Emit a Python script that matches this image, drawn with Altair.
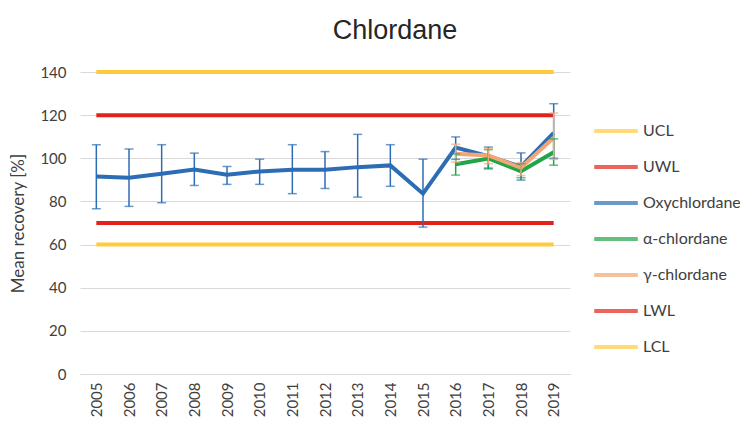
import altair as alt
import pandas as pd

years = [2005, 2006, 2007, 2008, 2009, 2010, 2011, 2012, 2013, 2014, 2015, 2016, 2017, 2018, 2019]
oxy_mean = [91.5, 91.0, 92.8, 94.8, 92.4, 93.9, 94.7, 94.7, 95.9, 96.7, 83.6, 105.0, 101.0, 96.1, 111.8]
oxy_low = [76.6, 77.7, 79.4, 87.4, 87.9, 87.9, 83.6, 86.0, 82.0, 87.0, 68.1, 99.5, 95.1, 89.9, 100.0]
oxy_high = [106.3, 104.3, 106.3, 102.4, 96.2, 99.6, 106.3, 103.1, 111.1, 106.3, 99.6, 109.9, 105.2, 102.5, 125.3]

new_years = [2016, 2017, 2018, 2019]
alpha_mean = [97.2, 99.9, 94.0, 102.8]
alpha_low = [92.2, 95.5, 91.0, 96.8]
alpha_high = [102.0, 104.0, 97.5, 109.0]
gamma_mean = [102.1, 101.3, 95.6, 109.5]
gamma_low = [98.2, 97.5, 92.0, 99.5]
gamma_high = [106.5, 104.5, 98.0, 121.0]

limits = {"UCL": 140, "UWL": 120, "LWL": 70, "LCL": 60}

series_order = ["UCL", "UWL", "Oxychlordane", "α-chlordane", "γ-chlordane", "LWL", "LCL"]
series_colors = ["#FFCB3D", "#E3231B", "#2C6DB5", "#21A546", "#F2A676", "#E3231B", "#FFCB3D"]
color_of = dict(zip(series_order, series_colors))

rows = []
for name, val in limits.items():
    for y in years:
        rows.append({"series": name, "year": str(y), "value": val})
for y, v in zip(years, oxy_mean):
    rows.append({"series": "Oxychlordane", "year": str(y), "value": v})
for y, v in zip(new_years, alpha_mean):
    rows.append({"series": "α-chlordane", "year": str(y), "value": v})
for y, v in zip(new_years, gamma_mean):
    rows.append({"series": "γ-chlordane", "year": str(y), "value": v})
line_df = pd.DataFrame(rows)

err_rows = []
for name, ys, lo, hi in [
    ("Oxychlordane", years, oxy_low, oxy_high),
    ("α-chlordane", new_years, alpha_low, alpha_high),
    ("γ-chlordane", new_years, gamma_low, gamma_high),
]:
    for y, l, h in zip(ys, lo, hi):
        err_rows.append({"series": name, "year": str(y), "low": l, "high": h, "hex": color_of[name]})
err_df = pd.DataFrame(err_rows)

year_labels = [str(y) for y in years]
xscale = alt.Scale(type="point", domain=year_labels, padding=0.5)
yscale = alt.Scale(domain=[0, 140], nice=False)

x_enc = alt.X("year:O", scale=xscale, title=None,
              axis=alt.Axis(labelAngle=270, labelFont="Lato", labelFontSize=15,
                            labelColor="#404040", ticks=False, domainColor="#D9D9D9",
                            labelPadding=8, labelBaseline="middle"))

lines = alt.Chart(line_df).mark_line(strokeWidth=4).encode(
    x=x_enc,
    y=alt.Y("value:Q", scale=yscale, title="Mean recovery [%]",
            axis=alt.Axis(values=[0, 20, 40, 60, 80, 100, 120, 140], labelFont="Lato",
                          labelFontSize=15, labelColor="#404040", ticks=False, domain=False,
                          gridColor="#D9D9D9", labelPadding=14, titleFont="Lato",
                          titleFontSize=17, titleFontWeight="normal", titleColor="#404040",
                          titlePadding=12)),
    color=alt.Color("series:N", scale=alt.Scale(domain=series_order, range=series_colors),
                    sort=series_order,
                    legend=alt.Legend(title=None, orient="none", legendX=512, legendY=35,
                                      symbolType="stroke", symbolStrokeWidth=4, symbolSize=1900,
                                      symbolOpacity=1,
                                      labelFont="Lato", labelFontSize=16, labelColor="#404040",
                                      rowPadding=4, labelOffset=3)),
    detail="series:N",
)

rules = alt.Chart(err_df).mark_rule(strokeWidth=1.5).encode(
    x=alt.X("year:O", scale=xscale),
    y=alt.Y("low:Q", scale=yscale),
    y2="high:Q",
    color=alt.Color("hex:N", scale=None),
)
caps_low = alt.Chart(err_df).mark_tick(size=9, thickness=1.5, orient="horizontal").encode(
    x=alt.X("year:O", scale=xscale),
    y=alt.Y("low:Q", scale=yscale),
    color=alt.Color("hex:N", scale=None),
)
caps_high = alt.Chart(err_df).mark_tick(size=9, thickness=1.5, orient="horizontal").encode(
    x=alt.X("year:O", scale=xscale),
    y=alt.Y("high:Q", scale=yscale),
    color=alt.Color("hex:N", scale=None),
)

chart = alt.layer(lines, rules, caps_low, caps_high).properties(
    width=490,
    height=302,
    autosize=alt.AutoSizeParams(type="none"),
    padding={"left": 72, "top": 64, "right": 170, "bottom": 44},
    title=alt.TitleParams("Chlordane", font="Liberation Sans", fontSize=27,
                          fontWeight="normal", color="#262626", anchor="middle",
                          dx=70, offset=19),
).configure_view(stroke=None)

chart.save("out.html", embed_options={"renderer": "svg", "actions": False})
